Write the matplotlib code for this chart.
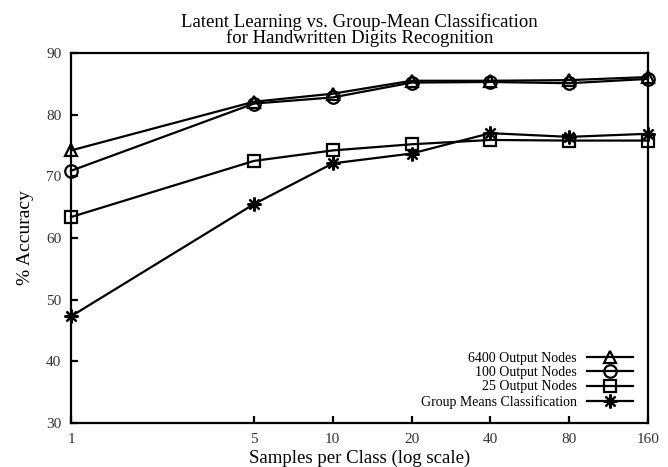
import matplotlib
matplotlib.use("Agg")
import matplotlib.pyplot as plt
from matplotlib.ticker import FixedLocator, FixedFormatter, NullLocator

plt.rcParams['font.family'] = ['Liberation Serif', 'DejaVu Serif']

samples = [1, 5, 10, 20, 40, 80, 160]
xtick_labels = ["1", "5", "10", "20", "40", "80", "160"]
yticks = [30, 40, 50, 60, 70, 80, 90]

acc_6400 = [74.2, 82.1, 83.4, 85.5, 85.5, 85.6, 86.1]
acc_100 = [70.9, 81.8, 82.8, 85.2, 85.3, 85.1, 85.8]
acc_25 = [63.4, 72.5, 74.2, 75.2, 75.9, 75.8, 75.8]
acc_group = [47.3, 65.5, 72.1, 73.7, 77.0, 76.4, 76.9]

fig = plt.figure(figsize=(6.68, 4.67), dpi=100)
ax = fig.add_axes([0.1063, 0.0942, 0.8637, 0.7923])

common = dict(color='black', linewidth=1.6, markerfacecolor='none',
              markeredgecolor='black', markeredgewidth=1.6, clip_on=False)
ax.plot(samples, acc_6400, marker='^', markersize=9, label='6400 Output Nodes', **common)
ax.plot(samples, acc_100, marker='o', markersize=9, label='100 Output Nodes', **common)
ax.plot(samples, acc_25, marker='s', markersize=9, label='25 Output Nodes', **common)
ax.plot(samples, acc_group, marker=(8, 2, 0), markersize=10, label='Group Means Classification', **common)

ax.set_xscale('log')
ax.set_xlim(1, 160)
ax.set_ylim(30, 90)
ax.xaxis.set_major_locator(FixedLocator(samples))
ax.xaxis.set_major_formatter(FixedFormatter(xtick_labels))
ax.xaxis.set_minor_locator(NullLocator())
ax.set_yticks(yticks)

for s in ax.spines.values():
    s.set_linewidth(1.6)
ax.tick_params(direction='in', length=5, width=1.6, labelsize=11, colors='black',
               labelcolor='#333333', top=False, right=False)
ax.tick_params(axis='x', pad=7)
ax.tick_params(axis='y', pad=7)

ax.set_xlabel('Samples per Class (log scale)', fontsize=13.5, labelpad=3)
ax.set_ylabel('% Accuracy', fontsize=14, labelpad=9)
ax.set_title('Latent Learning vs. Group-Mean Classification\nfor Handwritten Digits Recognition',
             fontsize=13.5, linespacing=0.9, pad=7)

leg = ax.legend(loc='lower right', bbox_to_anchor=(0.983, 0.024), frameon=False,
                markerfirst=False, fontsize=10, handlelength=3.3, handletextpad=0.7,
                labelspacing=0.1, borderaxespad=0)
for t in leg.get_texts():
    t.set_ha('right')
leg._legend_box.align = 'right'

fig.savefig('out.png', dpi=100)
